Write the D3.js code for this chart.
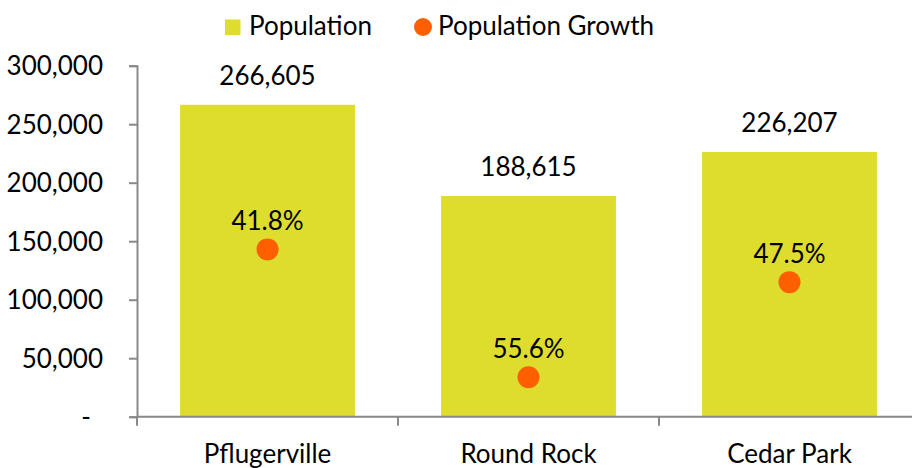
<!DOCTYPE html>
<html>
<head>
<script src="https://cdn.jsdelivr.net/npm/d3@7"></script>
<style>
  body { margin: 0; background: #fff; }
  text { font-family: Lato, "Open Sans", sans-serif; fill: #000; }
</style>
</head>
<body>
<script>
// chart data
var cities = ["Pflugerville", "Round Rock", "Cedar Park"];
var population = [266605, 188615, 226207];
var growthLabels = ["41.8%", "55.6%", "47.5%"];
// height of the growth markers, read on the population scale
var growthMarker = [143000, 33700, 115000];
var yTicks = [0, 50000, 100000, 150000, 200000, 250000, 300000];

var width = 912, height = 468;
var fontSize = "26px";
var svg = d3.select("body").append("svg").attr("width", width).attr("height", height);

// scales
var x = d3.scaleBand().domain(cities).range([137, 920]).paddingInner(0.33).paddingOuter(0.165);
var y = d3.scaleLinear().domain([0, 300000]).range([416.7, 65.7]);

var fmt = d3.format(",");
var axisColor = "#898989";

// bars
svg.selectAll("rect.bar").data(population).enter().append("rect")
  .attr("class", "bar")
  .attr("x", function(d, i) { return x(cities[i]); })
  .attr("y", function(d) { return y(d); })
  .attr("width", x.bandwidth())
  .attr("height", function(d) { return y(0) - y(d); })
  .attr("fill", "#dedc2c");

// bar value labels
svg.selectAll("text.barlabel").data(population).enter().append("text")
  .attr("class", "barlabel")
  .attr("x", function(d, i) { return x(cities[i]) + x.bandwidth() / 2; })
  .attr("y", function(d) { return y(d) - 20; })
  .attr("text-anchor", "middle")
  .style("font-size", fontSize)
  .text(function(d) { return fmt(d); });

// growth markers
svg.selectAll("circle.growth").data(growthMarker).enter().append("circle")
  .attr("class", "growth")
  .attr("cx", function(d, i) { return x(cities[i]) + x.bandwidth() / 2; })
  .attr("cy", function(d) { return y(d); })
  .attr("r", 11)
  .attr("fill", "#ff5f00");

svg.selectAll("text.growthlabel").data(growthMarker).enter().append("text")
  .attr("class", "growthlabel")
  .attr("x", function(d, i) { return x(cities[i]) + x.bandwidth() / 2; })
  .attr("y", function(d) { return y(d) - 19; })
  .attr("text-anchor", "middle")
  .style("font-size", fontSize)
  .text(function(d, i) { return growthLabels[i]; });

// y axis
var yAxis = d3.axisLeft(y).tickValues(yTicks).tickSize(8).tickPadding(26)
  .tickFormat(function(d) { return d === 0 ? "-" : fmt(d); });
var gy = svg.append("g").attr("transform", "translate(137,0)").call(yAxis);
gy.select(".domain").attr("stroke", axisColor).attr("stroke-width", 2);
gy.selectAll(".tick line").attr("stroke", axisColor).attr("stroke-width", 2);
gy.selectAll(".tick text").style("font-size", fontSize).style("font-family", "Lato, sans-serif")
  .attr("fill", "#000").attr("dy", "0.35em");
gy.selectAll(".tick text").filter(function(d) { return d === 0; }).attr("x", -46);

// x axis
svg.append("line").attr("x1", 137).attr("x2", width).attr("y1", y(0)).attr("y2", y(0))
  .attr("stroke", axisColor).attr("stroke-width", 2);
var bounds = cities.map(function(c) { return x(c) - x.step() * 0.165; });
bounds.push(x.range()[1]);
svg.selectAll("line.xtick").data(bounds).enter().append("line")
  .attr("class", "xtick")
  .attr("x1", function(d) { return d; }).attr("x2", function(d) { return d; })
  .attr("y1", y(0)).attr("y2", y(0) + 9)
  .attr("stroke", axisColor).attr("stroke-width", 2);
svg.selectAll("text.cat").data(cities).enter().append("text")
  .attr("class", "cat")
  .attr("x", function(d) { return x(d) + x.bandwidth() / 2; })
  .attr("y", 463)
  .attr("text-anchor", "middle")
  .style("font-size", fontSize)
  .text(function(d) { return d; });

// legend
var legend = svg.append("g");
legend.append("rect").attr("x", 225).attr("y", 19.5).attr("width", 15.5).attr("height", 15.5).attr("fill", "#dedc2c");
legend.append("text").attr("x", 249).attr("y", 35).style("font-size", fontSize).text("Population");
legend.append("circle").attr("cx", 423).attr("cy", 27).attr("r", 9).attr("fill", "#ff5f00");
legend.append("text").attr("x", 438).attr("y", 35).style("font-size", fontSize).text("Population Growth");
</script>
</body>
</html>
